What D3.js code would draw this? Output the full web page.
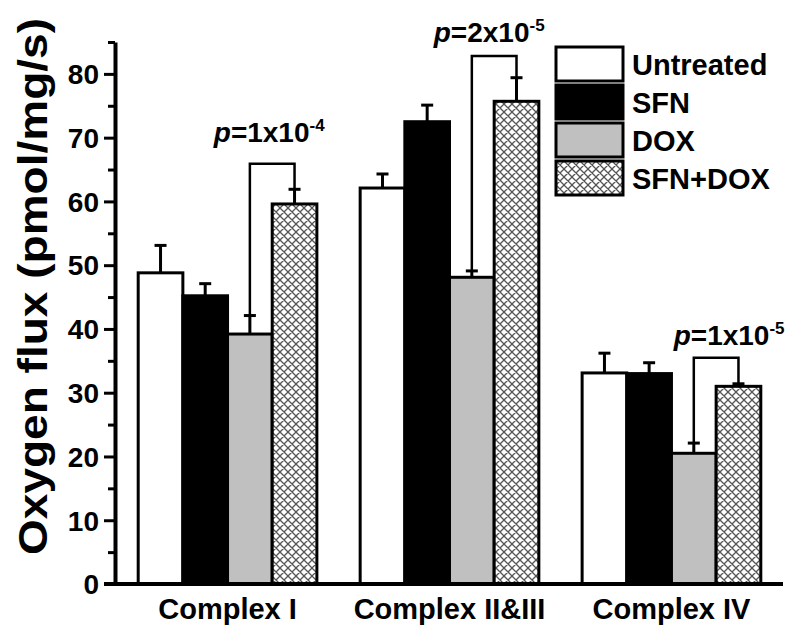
<!DOCTYPE html>
<meta charset="utf-8">
<style>
    body { margin: 0; background: #fff; }
    svg text { font-family: "Liberation Sans", Arial, sans-serif; font-weight: bold; fill: #000; }
</style>
<script src="https://cdn.jsdelivr.net/npm/d3@7"></script>
<svg width="800" height="635"></svg>
<script>

    // chart data
    var groups = ["Complex I", "Complex II&III", "Complex IV"];
    var series = ["Untreated", "SFN", "DOX", "SFN+DOX"];
    var untreated = [48.8, 62.1, 33.1];
    var sfn = [45.2, 72.5, 33.0];
    var dox = [39.2, 48.1, 20.5];
    var sfnDox = [59.6, 75.7, 31.0];
    var untreatedErr = [4.3, 2.2, 3.1];
    var sfnErr = [1.9, 2.6, 1.7];
    var doxErr = [2.9, 1.0, 1.6];
    var sfnDoxErr = [2.3, 3.7, 0.4];
    var yTicks = [0, 10, 20, 30, 40, 50, 60, 70, 80];
    var yMinorTicks = [5, 15, 25, 35, 45, 55, 65, 75, 85];

    // significance brackets (DOX vs SFN+DOX)
    var pMantissa = [1, 2, 1];
    var pExponent = [-4, -5, -5];
    var bracketTop = [65.9, 82.8, 35.5];
    var pTextLevel = [69.3, 85.0, 37.5];

    var means = [untreated, sfn, dox, sfnDox];
    var errs = [untreatedErr, sfnErr, doxErr, sfnDoxErr];

    var svg = d3.select("svg");

    var y = d3.scaleLinear().domain([0, 85]).range([584, 42]);
    var x0 = d3.scaleBand().domain(groups).range([116, 783]).paddingInner(0.195).paddingOuter(0.1);
    var x1 = d3.scaleBand().domain(series).range([0, x0.bandwidth()]);

    var fills = { "Untreated": "#fff", "SFN": "#000", "DOX": "#c0c0c0", "SFN+DOX": "url(#hatch)" };

    var defs = svg.append("defs");
    var pat = defs.append("pattern")
        .attr("id", "hatch")
        .attr("patternUnits", "userSpaceOnUse")
        .attr("width", 8).attr("height", 8);
    pat.append("rect").attr("width", 8).attr("height", 8).attr("fill", "#fff");
    pat.append("path")
        .attr("d", "M0,0L8,8M8,0L0,8M-1,7L1,9M7,-1L9,1")
        .attr("stroke", "#555").attr("stroke-width", 1.3);

    // flatten to one row per bar
    var rows = [];
    groups.forEach(function (g, gi) {
        series.forEach(function (s, si) {
            rows.push({ group: g, key: s, value: means[si][gi], err: errs[si][gi] });
        });
    });

    var bars = svg.append("g");

    // error bars first so the bar outline sits on top
    var eb = bars.selectAll(".err").data(rows).enter().append("g").attr("class", "err");
    eb.append("line")
        .attr("x1", function (d) { return x0(d.group) + x1(d.key) + x1.bandwidth() / 2; })
        .attr("x2", function (d) { return x0(d.group) + x1(d.key) + x1.bandwidth() / 2; })
        .attr("y1", function (d) { return y(d.value); })
        .attr("y2", function (d) { return y(d.value + d.err); })
        .attr("stroke", "#000").attr("stroke-width", 3);
    eb.append("line")
        .attr("x1", function (d) { return x0(d.group) + x1(d.key) + x1.bandwidth() / 2 - 6; })
        .attr("x2", function (d) { return x0(d.group) + x1(d.key) + x1.bandwidth() / 2 + 6; })
        .attr("y1", function (d) { return y(d.value + d.err); })
        .attr("y2", function (d) { return y(d.value + d.err); })
        .attr("stroke", "#000").attr("stroke-width", 3);

    bars.selectAll(".bar").data(rows).enter().append("rect")
        .attr("class", "bar")
        .attr("x", function (d) { return x0(d.group) + x1(d.key); })
        .attr("y", function (d) { return y(d.value); })
        .attr("width", x1.bandwidth())
        .attr("height", function (d) { return y(0) - y(d.value); })
        .attr("fill", function (d) { return fills[d.key]; })
        .attr("stroke", "#000")
        .attr("stroke-width", 3);

    // brackets
    var bx = function (gi, key) { return x0(groups[gi]) + x1(key) + x1.bandwidth() / 2; };
    var pDx = [-3, -5, 13];
    groups.forEach(function (g, gi) {
        var xl = bx(gi, "DOX"), xr = bx(gi, "SFN+DOX");
        var yl = y(dox[gi] + doxErr[gi]), yr = y(sfnDox[gi] + sfnDoxErr[gi]);
        svg.append("path")
            .attr("d", "M" + xl + "," + yl + "V" + y(bracketTop[gi]) + "H" + xr + "V" + yr)
            .attr("fill", "none").attr("stroke", "#000").attr("stroke-width", 2.5);
        var t = svg.append("text")
            .attr("x", (xl + xr) / 2 + pDx[gi])
            .attr("y", y(pTextLevel[gi]))
            .attr("text-anchor", "middle")
            .attr("font-size", 28);
        t.append("tspan").attr("font-style", "italic").text("p");
        t.append("tspan").text("=" + pMantissa[gi] + "x10");
        t.append("tspan").attr("font-size", 17).attr("dy", -11).text(pExponent[gi]);
    });

    // x axis
    svg.append("line")
        .attr("x1", 104).attr("x2", 783)
        .attr("y1", y(0)).attr("y2", y(0))
        .attr("stroke", "#000").attr("stroke-width", 4);
    var xAxis = svg.append("g")
        .attr("transform", "translate(0," + y(0) + ")")
        .call(d3.axisBottom(x0).tickSize(0).tickPadding(14));
    xAxis.select(".domain").remove();
    xAxis.selectAll("text")
        .attr("font-size", 29)
        .style("font-family", "'Liberation Sans', Arial, sans-serif")
        .style("font-weight", "bold");

    // y axis
    var yAxis = svg.append("g")
        .attr("transform", "translate(115,0)")
        .call(d3.axisLeft(y).tickValues(yTicks).tickSize(11).tickPadding(5).tickSizeOuter(0));
    yAxis.select(".domain").attr("stroke-width", 4);
    yAxis.selectAll(".tick line").attr("stroke-width", 3);
    yAxis.selectAll("text")
        .attr("font-size", 28)
        .attr("dy", "0.35em")
        .style("font-family", "'Liberation Sans', Arial, sans-serif")
        .style("font-weight", "bold");
    var yMinor = svg.append("g")
        .attr("transform", "translate(115,0)")
        .call(d3.axisLeft(y).tickValues(yMinorTicks).tickSize(7).tickFormat(""));
    yMinor.select(".domain").remove();
    yMinor.selectAll(".tick line").attr("stroke-width", 3);

    svg.append("text")
        .attr("transform", "translate(47," + ((555 + 18) / 2) + ") rotate(-90)")
        .attr("text-anchor", "middle")
        .attr("font-size", 40)
        .attr("textLength", 537)
        .attr("lengthAdjust", "spacingAndGlyphs")
        .text("Oxygen flux (pmol/mg/s)");

    // legend
    var legend = svg.selectAll(".legend").data(series).enter().append("g")
        .attr("class", "legend")
        .attr("transform", function (d, i) { return "translate(556," + (47 + i * 38) + ")"; });
    legend.append("rect")
        .attr("width", 67).attr("height", 34)
        .attr("fill", function (d) { return fills[d]; })
        .attr("stroke", "#000").attr("stroke-width", 3);
    legend.append("text")
        .attr("x", 76).attr("y", 28)
        .attr("font-size", 29)
        .text(function (d) { return d; });

</script>
